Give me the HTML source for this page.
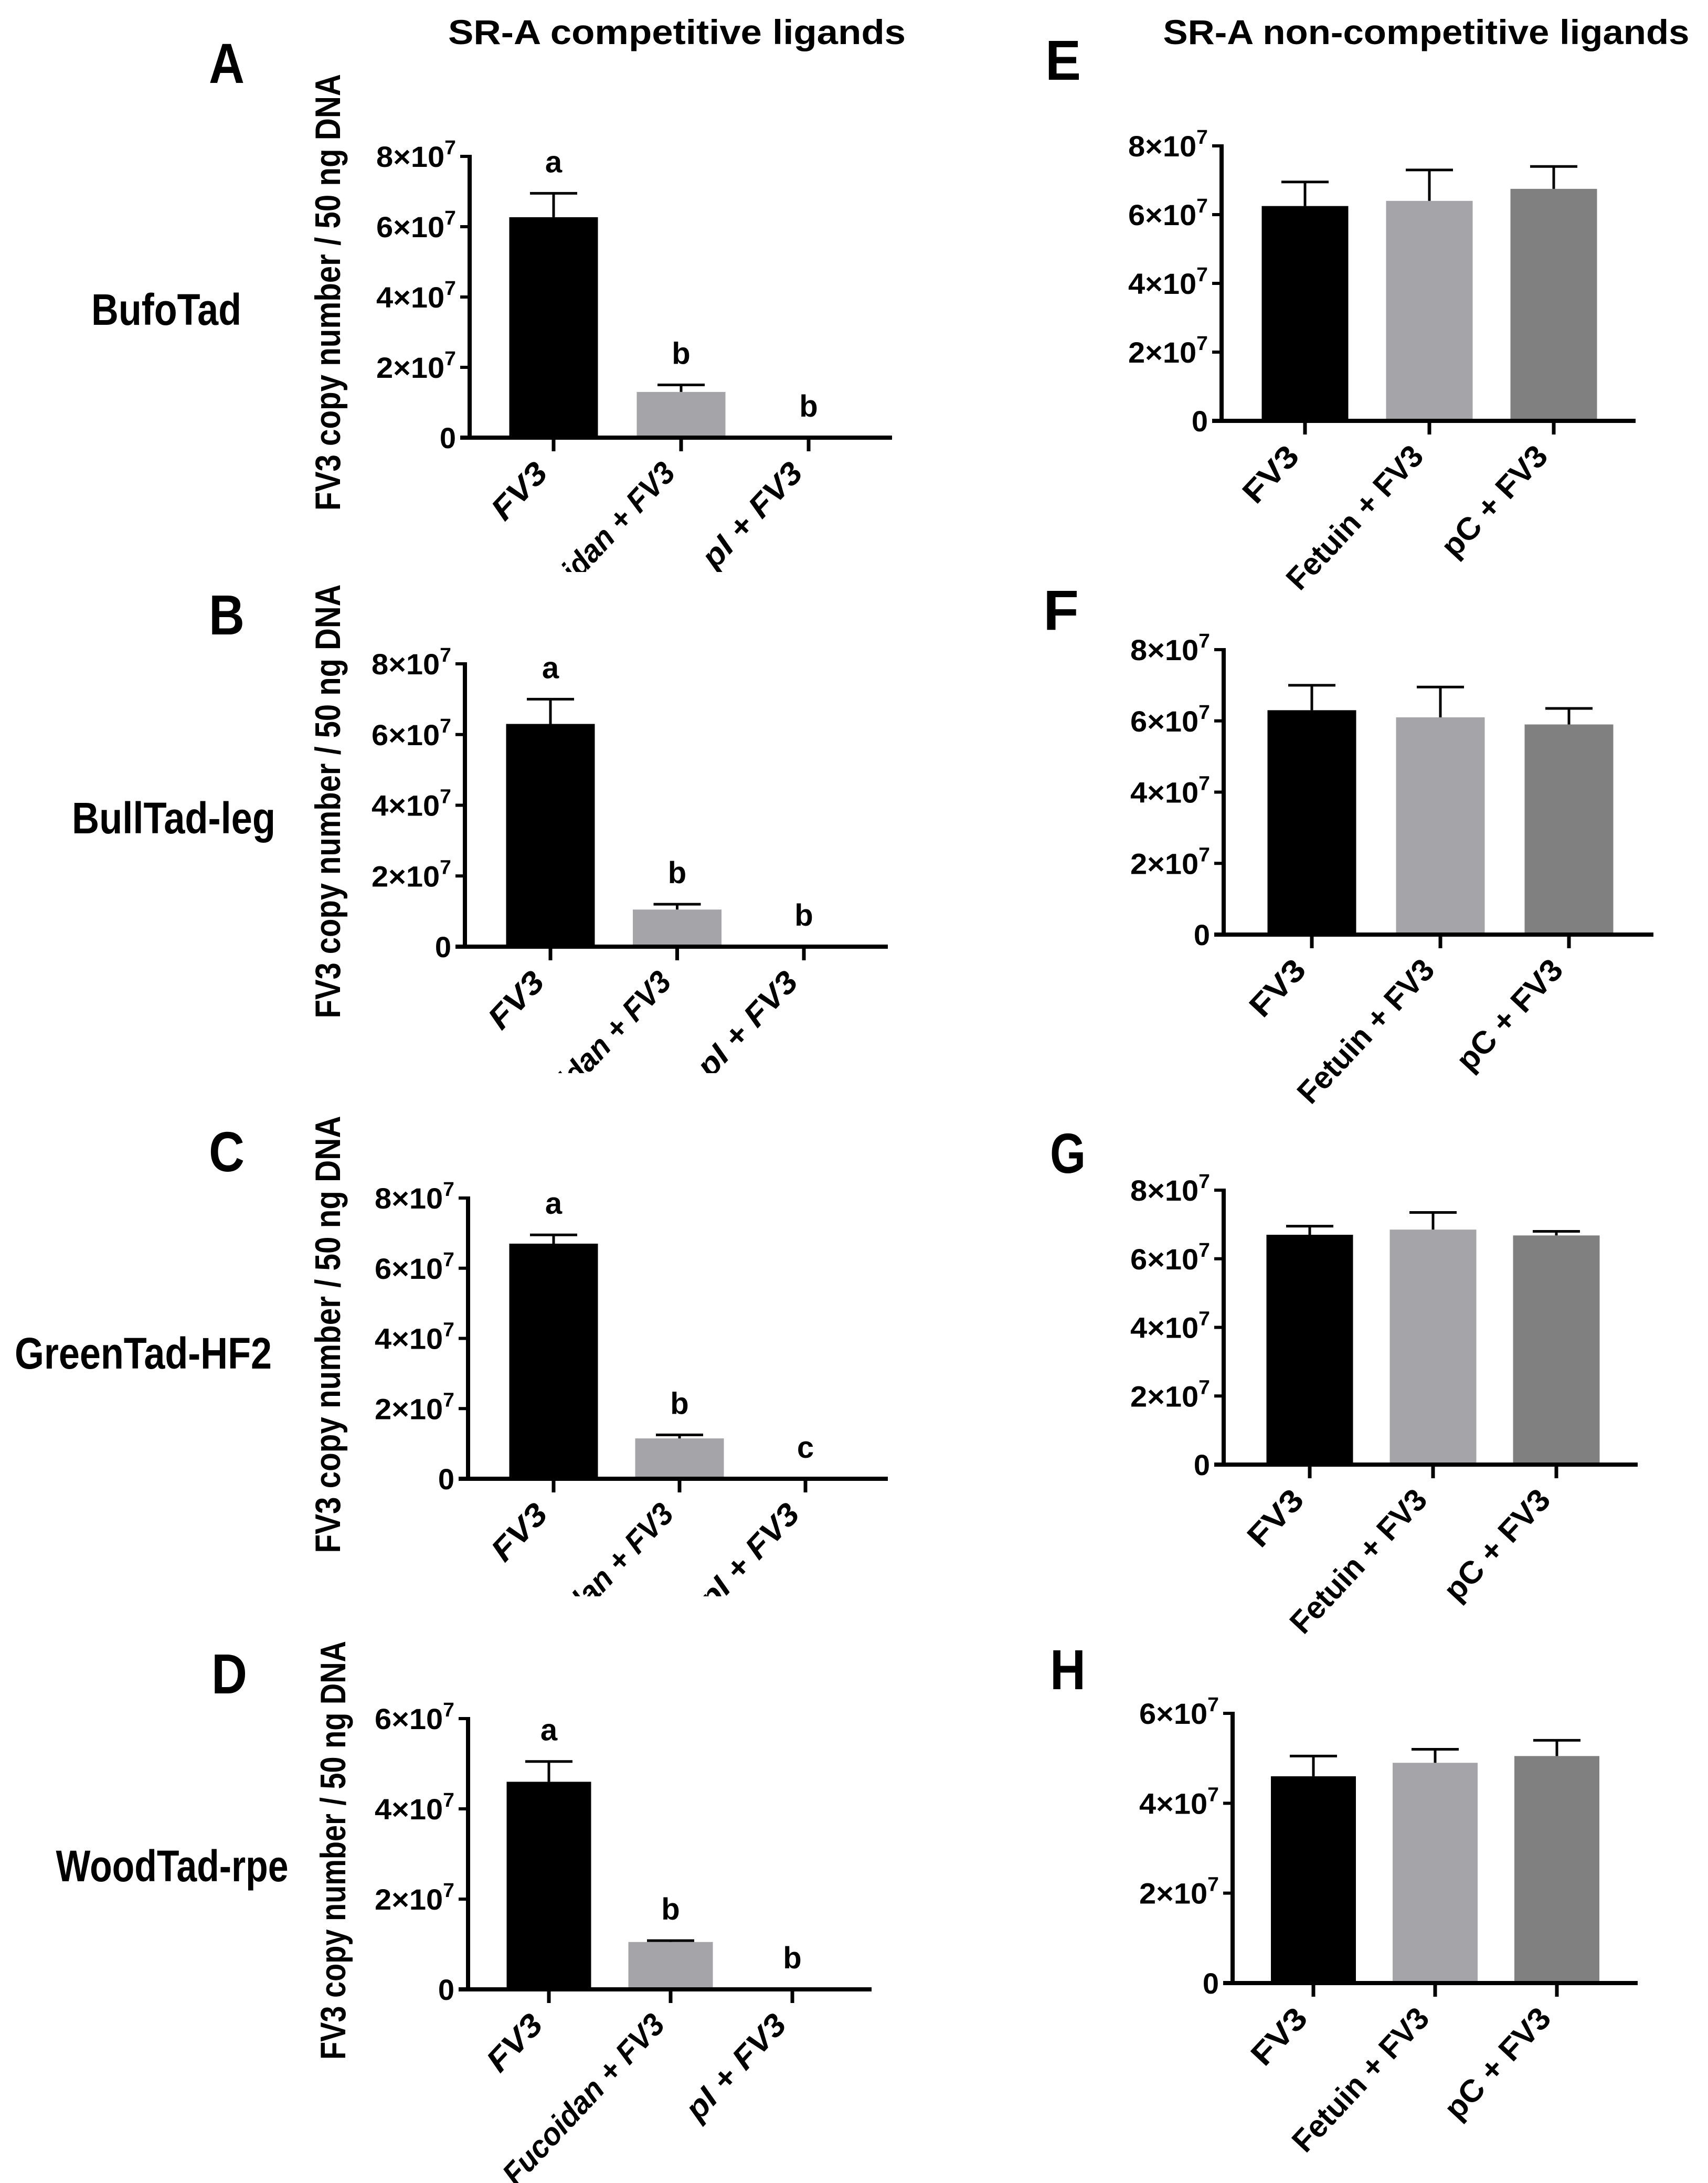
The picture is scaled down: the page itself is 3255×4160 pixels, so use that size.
<!DOCTYPE html>
<html><head><meta charset="utf-8"><style>
html,body{margin:0;padding:0;background:#fff;}
svg{display:block;}
text{font-family:"Liberation Sans",Arial,sans-serif;font-weight:bold;fill:#000;}
</style></head><body>
<svg id="fig" xmlns="http://www.w3.org/2000/svg" width="3255" height="4160" viewBox="0 0 3255 4160">
<defs>
<clipPath id="clipA"><rect x="0" y="0" width="1800" height="1090"/></clipPath>
<clipPath id="clipB"><rect x="0" y="1095" width="1800" height="950"/></clipPath>
<clipPath id="clipC"><rect x="0" y="2060" width="1800" height="982"/></clipPath>
<clipPath id="clipD"><rect x="0" y="3060" width="1800" height="1100"/></clipPath>
</defs>
<text x="1290" y="84" font-size="66" text-anchor="middle" textLength="872" lengthAdjust="spacingAndGlyphs">SR-A competitive ligands</text>
<text x="2718" y="84" font-size="66" text-anchor="middle" textLength="1003" lengthAdjust="spacingAndGlyphs">SR-A non-competitive ligands</text>
</svg>
<script>
// ---- data ----
var catsLeft = ["FV3", "Fucoidan + FV3", "pI + FV3"];
var catsRight = ["FV3", "Fetuin + FV3", "pC + FV3"];
var meanA = [6.27, 1.3, 0];   var errA = [0.68, 0.2, 0];   var letA = ["a","b","b"];
var meanB = [6.3, 1.05, 0];   var errB = [0.7, 0.15, 0];   var letB = ["a","b","b"];
var meanC = [6.7, 1.15, 0];   var errC = [0.25, 0.1, 0];   var letC = ["a","b","c"];
var meanD = [4.6, 1.05, 0];   var errD = [0.45, 0.03, 0];  var letD = ["a","b","b"];
var meanE = [6.25, 6.4, 6.75]; var errE = [0.7, 0.9, 0.65];
var meanF = [6.3, 6.1, 5.9];   var errF = [0.7, 0.85, 0.45];
var meanG = [6.7, 6.85, 6.68]; var errG = [0.25, 0.5, 0.12];
var meanH = [4.6, 4.9, 5.05];  var errH = [0.45, 0.3, 0.35];
var ticks8 = [0, 2, 4, 6, 8];
var ticks6 = [0, 2, 4, 6];
var rowLabels = ["BufoTad", "BullTad-leg", "GreenTad-HF2", "WoodTad-rpe"];

var NS = "http://www.w3.org/2000/svg";
var svg = document.getElementById("fig");
var colors = ["#000000", "#a5a4a9", "#808080"];

function mk(tag, attrs, parent) {
  var e = document.createElementNS(NS, tag);
  for (var k in attrs) e.setAttribute(k, attrs[k]);
  (parent || svg).appendChild(e);
  return e;
}

var panels = [
 {id:"A", ax:895, top:298, base:834, xEnd:1700, t0:1055, sp:243, bw:169, max:8, ticks:ticks8, mean:meanA, err:errA, lets:letA, cats:catsLeft, italic:true, clip:"clipA", L:[432,119], row:0},
 {id:"B", ax:886, top:1265, base:1804, xEnd:1692, t0:1049, sp:241.5, bw:169, max:8, ticks:ticks8, mean:meanB, err:errB, lets:letB, cats:catsLeft, italic:true, clip:"clipB", L:[432,1170], row:1},
 {id:"C", ax:892, top:2283, base:2818, xEnd:1692, t0:1055, sp:240, bw:169, max:8, ticks:ticks8, mean:meanC, err:errC, lets:letC, cats:catsLeft, italic:true, clip:"clipC", L:[432,2193], row:2},
 {id:"D", ax:892, top:3275, base:3791, xEnd:1661, t0:1046, sp:232, bw:161, max:6, ticks:ticks6, mean:meanD, err:errD, lets:letD, cats:catsLeft, italic:true, clip:"clipD", L:[437,3188], row:3},
 {id:"E", ax:2328, top:278, base:802, xEnd:3117, t0:2487, sp:237, bw:165, max:8, ticks:ticks8, mean:meanE, err:errE, lets:null, cats:catsRight, italic:false, L:[2026,113]},
 {id:"F", ax:2332, top:1238, base:1781, xEnd:3151, t0:2500, sp:245, bw:169, max:8, ticks:ticks8, mean:meanF, err:errF, lets:null, cats:catsRight, italic:false, L:[2022,1161]},
 {id:"G", ax:2332, top:2268, base:2791, xEnd:3121, t0:2496, sp:235, bw:165, max:8, ticks:ticks8, mean:meanG, err:errG, lets:null, cats:catsRight, italic:false, L:[2035,2196]},
 {id:"H", ax:2349, top:3265, base:3779, xEnd:3121, t0:2503, sp:232, bw:162, max:6, ticks:ticks6, mean:meanH, err:errH, lets:null, cats:catsRight, italic:false, L:[2035,3180]}
];
var yTitles = [[624,557,832],[624,1527,827],[624,2543,833],[634,3526,798]];
var rowPos = [[317,589,286],[331,1558,388],[273,2578,490],[328,3555,443]];
var labelLens = {"FV3":125, "Fucoidan + FV3":420, "pI + FV3":250, "Fetuin + FV3":350, "pC + FV3":265};

panels.forEach(function(p){
  var g = mk("g", {});
  
  
  if (p.clip) g.setAttribute("clip-path", "url(#" + p.clip + ")");
  function yS(v){ return p.base - v / p.max * (p.base - p.top); }
  function xS(i){ return p.t0 + i * p.sp; }

  var pl = mk("text", {x:p.L[0], y:p.L[1]+39, "font-size":108, "text-anchor":"middle", textLength:68, lengthAdjust:"spacingAndGlyphs"}, g);
  pl.textContent = p.id;
  
  

  p.mean.forEach(function(v, i){
    var yv = yS(v);
    var r = mk("rect", {x:xS(i)-p.bw/2, y:yv, width:p.bw, height:p.base-yv, fill:colors[i]}, g);
    
    
    if (p.err[i] > 0) {
      var ye = yS(v + p.err[i]);
      var eb = mk("path", {d:"M"+xS(i)+","+yv+"V"+ye+"M"+(xS(i)-45)+","+ye+"H"+(xS(i)+45), stroke:"#000", "stroke-width":5, fill:"none"}, g);
      
      
    }
    if (p.lets) {
      var yl = yS(v + p.err[i]) - 60;
      var lt = mk("text", {x:xS(i), y:yl+20, "font-size":58, "text-anchor":"middle"}, g);
      lt.textContent = p.lets[i];
      
      
    }
    var tx = xS(i) - 8, ty = p.base + 70;
    var xl = mk("text", {x:tx, y:ty, "font-size":60, "text-anchor":"end", transform:"rotate(-47 "+tx+" "+ty+")", textLength:labelLens[p.cats[i]], lengthAdjust:"spacingAndGlyphs"}, g);
    if (p.italic) xl.setAttribute("font-style", "italic");
    xl.textContent = p.cats[i];
    
    
    var xt = mk("line", {x1:xS(i), x2:xS(i), y1:p.base, y2:p.base+26, stroke:"#000", "stroke-width":7}, g);
    
    
  });

  var ya = mk("line", {x1:p.ax, x2:p.ax, y1:p.top-3, y2:p.base+4, stroke:"#000", "stroke-width":8}, g);
  
  
  var xa = mk("line", {x1:p.ax-18, x2:p.xEnd, y1:p.base, y2:p.base, stroke:"#000", "stroke-width":8}, g);
  
  
  p.ticks.forEach(function(t){
    var yt = yS(t);
    var tk = mk("line", {x1:p.ax-18, x2:p.ax, y1:yt, y2:yt, stroke:"#000", "stroke-width":6}, g);
    
    
    var tl = mk("text", {x:p.ax-26, y:yt+20, "font-size":56, "text-anchor":"end"}, g);
    
    
    if (t === 0) { tl.textContent = "0"; }
    else {
      tl.setAttribute("textLength", 152);
      tl.setAttribute("lengthAdjust", "spacingAndGlyphs");
      tl.appendChild(document.createTextNode(t + "\u00d710"));
      var sp = mk("tspan", {dy:-24, "font-size":38}, tl);
      sp.textContent = "7";
    }
  });

  if (p.row !== undefined) {
    var yt2 = yTitles[p.row];
    var at = mk("text", {x:yt2[0]+24, y:yt2[1], "font-size":68, "text-anchor":"middle", transform:"rotate(-90 "+(yt2[0]+24)+" "+yt2[1]+")", textLength:yt2[2], lengthAdjust:"spacingAndGlyphs"}, g);
    at.textContent = "FV3 copy number / 50 ng DNA";
    
    
    var rp = rowPos[p.row];
    var rl = mk("text", {x:rp[0], y:rp[1]+30, "font-size":84, "text-anchor":"middle", textLength:rp[2], lengthAdjust:"spacingAndGlyphs"});
    rl.textContent = rowLabels[p.row];
    
    
  }
});
</script>
</body></html>
